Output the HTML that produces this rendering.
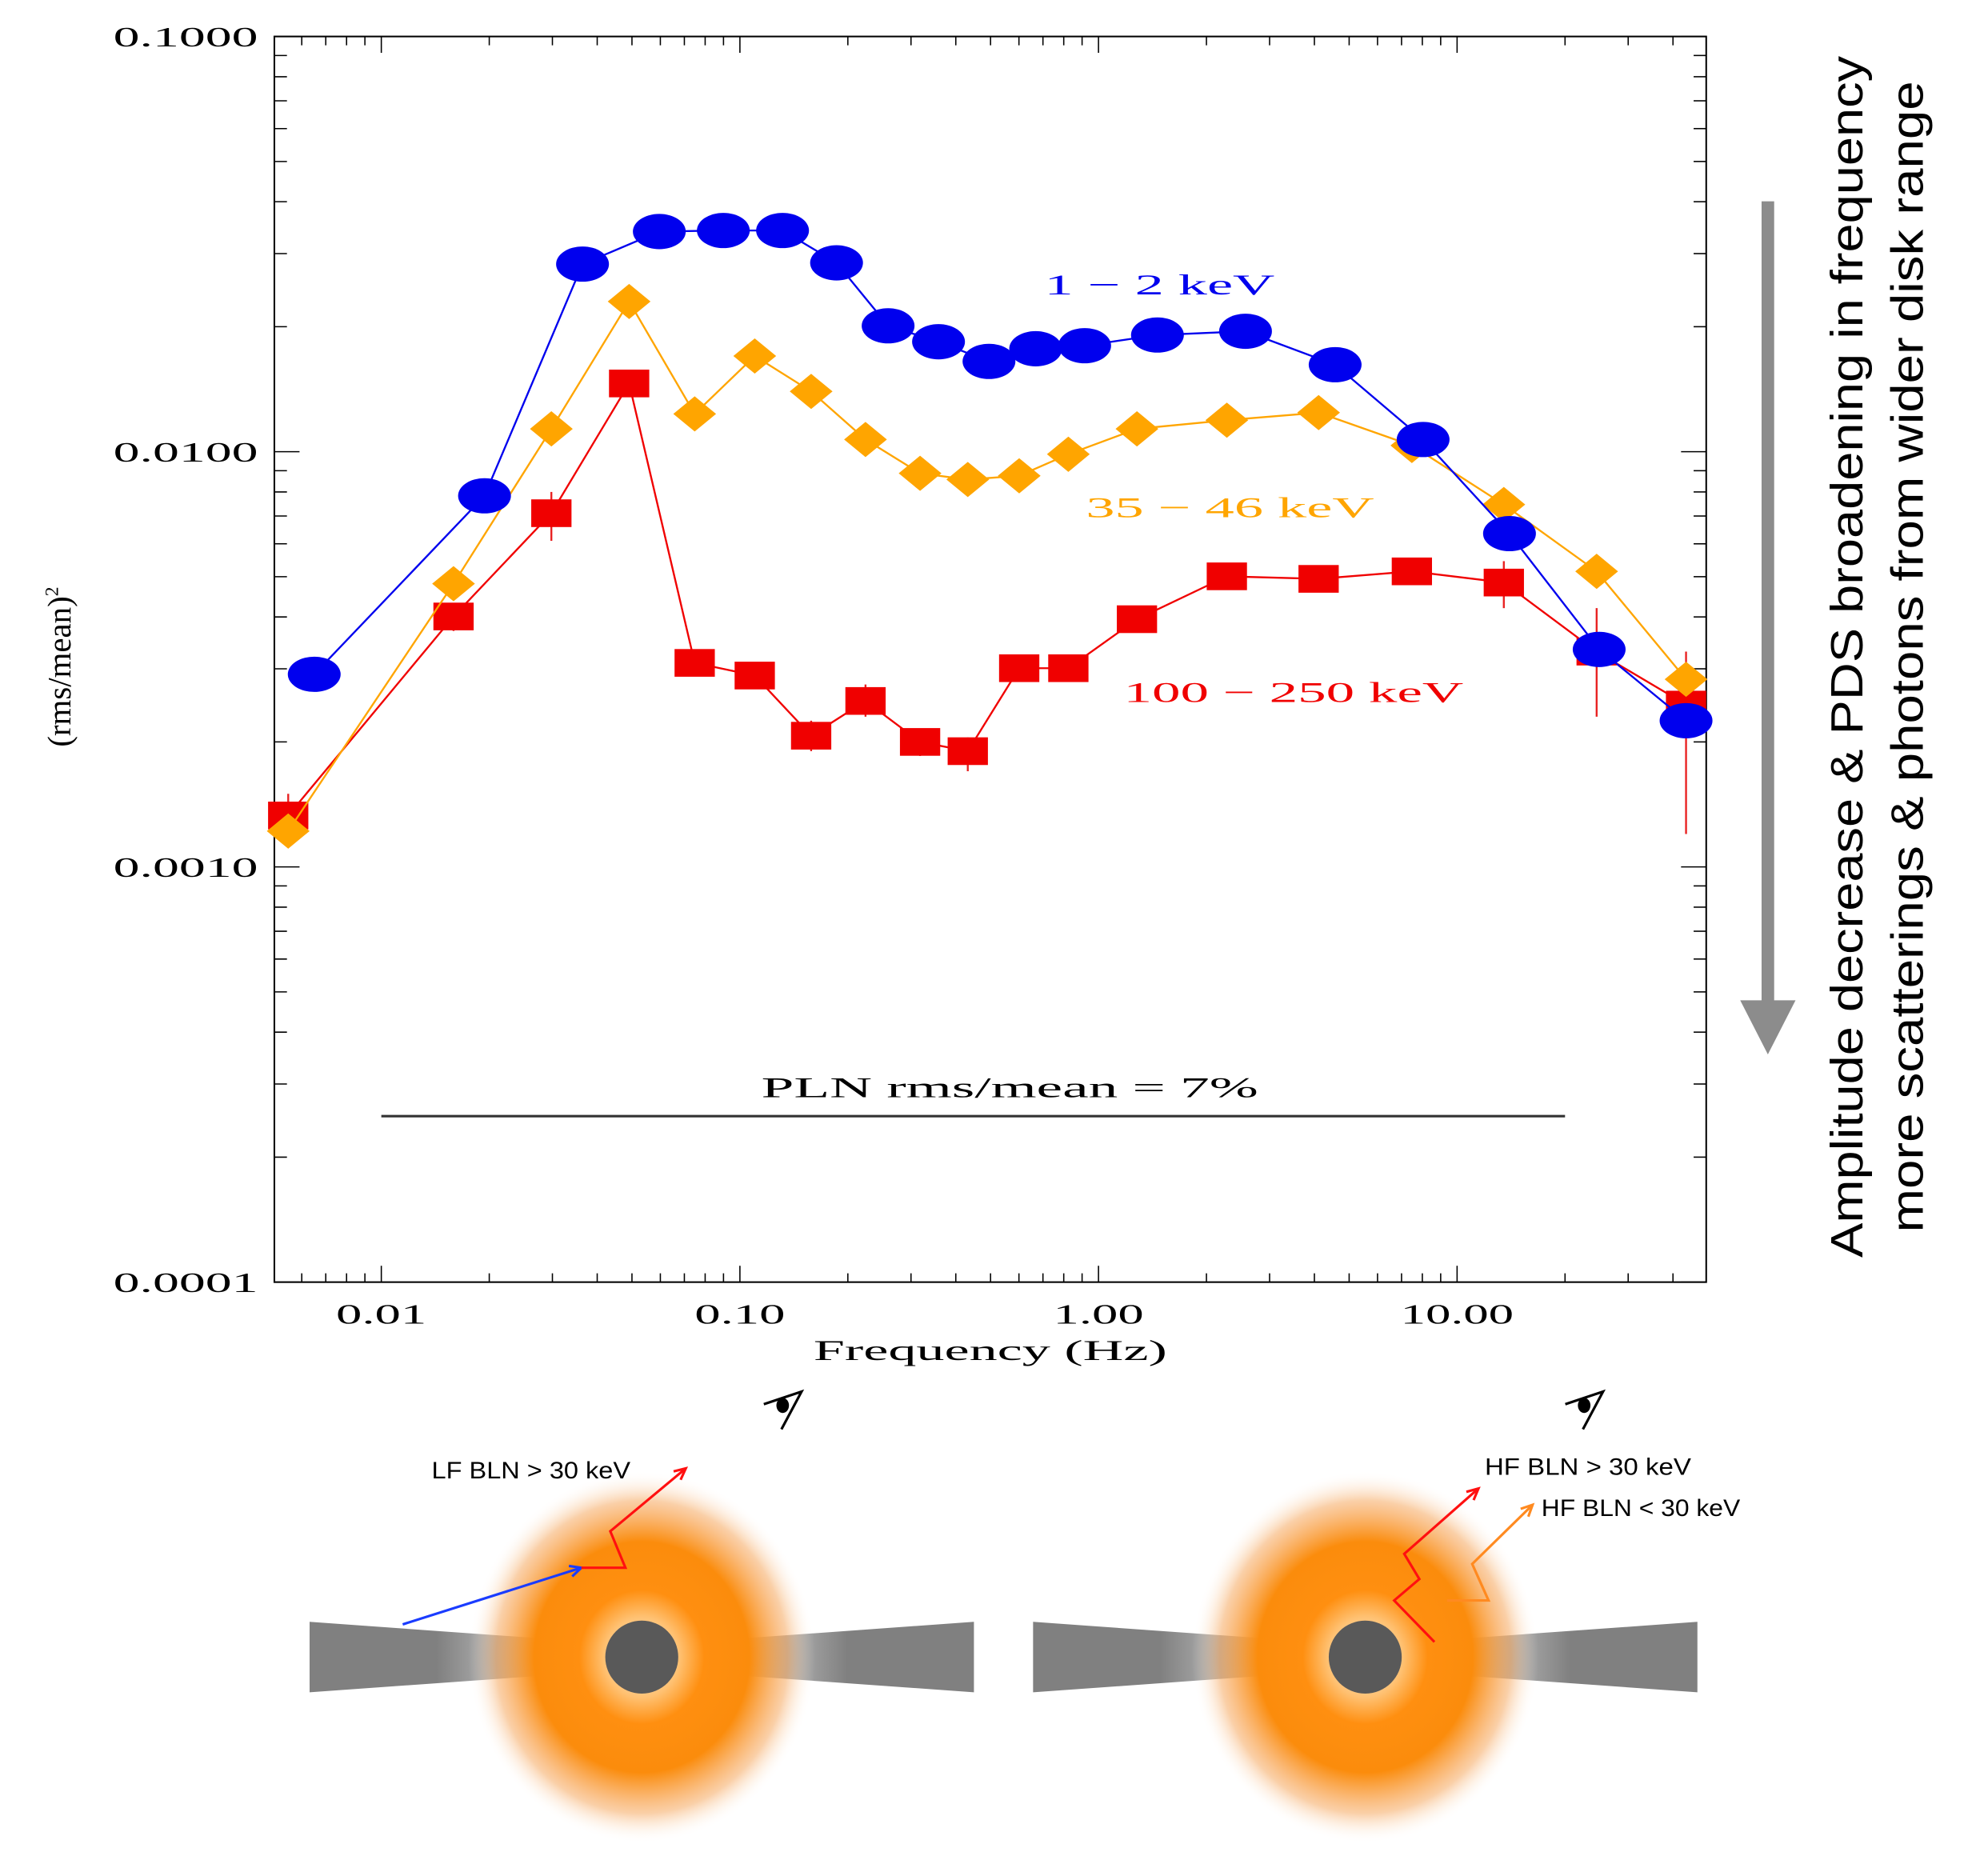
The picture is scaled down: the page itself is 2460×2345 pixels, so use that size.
<!DOCTYPE html>
<html><head><meta charset="utf-8"><style>
html,body{margin:0;padding:0;background:#fff}
svg{display:block}
.ser{font-family:"Liberation Serif",serif}
.sans{font-family:"Liberation Sans",sans-serif}
</style></head><body>
<svg id="chart" width="2460" height="2345" viewBox="0 0 1564 1491" xmlns="http://www.w3.org/2000/svg">
<defs>
<radialGradient id="glow" cx="0.5" cy="0.5" r="0.5">
<stop offset="0" stop-color="#fff3e0"/>
<stop offset="0.22" stop-color="#ffc070"/>
<stop offset="0.36" stop-color="#ff8f10"/>
<stop offset="0.62" stop-color="#fb8c0c"/>
<stop offset="0.84" stop-color="#f5a050" stop-opacity="0.5"/>
<stop offset="1" stop-color="#ffffff" stop-opacity="0"/>
</radialGradient>
<linearGradient id="diskL" x1="0" x2="1"><stop offset="0.45" stop-color="#808080"/><stop offset="1" stop-color="#808080" stop-opacity="0"/></linearGradient>
<linearGradient id="diskR" x1="1" x2="0"><stop offset="0.45" stop-color="#808080"/><stop offset="1" stop-color="#808080" stop-opacity="0"/></linearGradient>
</defs>
<g id="plot"></g>
<g id="diagram"></g>
</svg>
<script>
const freqBlue=[0.0065,0.0194,0.0364,0.0596,0.0899,0.1315,0.186,0.259,0.358,0.495,0.668,0.915,1.46,2.57,4.57,8.04,14.0,24.9,43.5];
const valBlue=[0.00291,0.00783,0.0283,0.0339,0.0341,0.0341,0.0285,0.0201,0.0184,0.0165,0.0177,0.0180,0.0191,0.0195,0.0162,0.0107,0.00635,0.00334,0.00225];
const freqOrange=[0.0055,0.0159,0.0298,0.0491,0.0748,0.110,0.158,0.224,0.318,0.432,0.601,0.824,1.28,2.28,4.11,7.48,13.5,24.5,43.5];
const valOrange=[0.00122,0.00481,0.01135,0.0230,0.01233,0.0170,0.01397,0.0107,0.00887,0.00857,0.00875,0.00986,0.01135,0.01191,0.01242,0.01035,0.00746,0.00515,0.00283];
const freqRed=[0.0055,0.0159,0.0298,0.0491,0.0748,0.110,0.158,0.224,0.318,0.432,0.601,0.824,1.28,2.28,4.11,7.48,13.5,24.5,43.5];
const valRed=[0.00133,0.00401,0.00711,0.0146,0.00310,0.00289,0.00207,0.00251,0.00200,0.00190,0.00301,0.00301,0.00395,0.00501,0.00494,0.00515,0.00484,0.00330,0.00246];
const errRedLo=[0.00120,0.00370,0.00610,0.0136,0.00290,0.00270,0.00190,0.00230,0.00185,0.00170,0.00285,0.00285,0.00375,0.00480,0.00470,0.00490,0.00420,0.00230,0.00120];
const errRedHi=[0.00150,0.00430,0.00800,0.0156,0.00330,0.00305,0.00225,0.00275,0.00215,0.00205,0.00320,0.00320,0.00415,0.00520,0.00515,0.00545,0.00545,0.00420,0.00330];
const xTickVals=[0.01,0.1,1,10];
const xTickLabels=["0.01","0.10","1.00","10.00"];
const yTickVals=[0.1,0.01,0.001,0.0001];
const yTickLabels=["0.1000","0.0100","0.0010","0.0001"];
const plnLevel=0.000251;

const NS="http://www.w3.org/2000/svg";
const L=218,R=1356,T=29,B=1019;
const X=f=>303+(Math.log10(f)+2)*285;
const Y=v=>29+(-1-Math.log10(v))*330;
const plot=document.getElementById('plot');
function mk(tag,attrs,parent){const e=document.createElementNS(NS,tag);for(const k in attrs)e.setAttribute(k,attrs[k]);(parent||plot).appendChild(e);return e;}

const frame=mk('rect',{x:L,y:T,width:R-L,height:B-T,fill:'none',stroke:'#000','stroke-width':1.3});



for(let d=-3;d<=1;d++){for(let m=1;m<=9;m++){const f=m*Math.pow(10,d);const x=X(f);if(x<L-0.5||x>R+0.5)continue;const len=m===1?13:7;
const t1=mk('line',{x1:x,x2:x,y1:B,y2:B-len,stroke:'#000','stroke-width':1});


const t2=mk('line',{x1:x,x2:x,y1:T,y2:T+len,stroke:'#000','stroke-width':1});

}}
for(let d=-4;d<=-1;d++){for(let m=1;m<=9;m++){const v=m*Math.pow(10,d);const y=Y(v);if(y<T-0.5||y>B+0.5)continue;const len=m===1?20:10;
const t1=mk('line',{x1:L,x2:L+len,y1:y,y2:y,stroke:'#000','stroke-width':1});


const t2=mk('line',{x1:R,x2:R-len,y1:y,y2:y,stroke:'#000','stroke-width':1});

}}
xTickVals.forEach((v,i)=>{const t=mk('text',{x:X(v),y:1052,'text-anchor':'middle',class:'ser','font-size':22,textLength:xTickLabels[i].length*18,lengthAdjust:'spacingAndGlyphs'});t.textContent=xTickLabels[i];

});
yTickVals.forEach((v,i)=>{const t=mk('text',{x:205,y:Y(v)+8,'text-anchor':'end',class:'ser','font-size':22,textLength:115,lengthAdjust:'spacingAndGlyphs'});t.textContent=yTickLabels[i];

});
const xt=mk('text',{x:787,y:1081,'text-anchor':'middle',class:'ser','font-size':23,textLength:281,lengthAdjust:'spacingAndGlyphs'});xt.textContent='Frequency (Hz)';


const yt=mk('text',{x:0,y:0,'text-anchor':'middle',class:'ser','font-size':26,transform:'translate(56,530) rotate(-90)'});yt.innerHTML='(rms/mean)<tspan font-size="15" dy="-10">2</tspan>';



const pl=mk('line',{x1:X(0.01),x2:X(20),y1:Y(plnLevel),y2:Y(plnLevel),stroke:'#333','stroke-width':2});


const pt=mk('text',{x:605,y:872,class:'ser','font-size':23,textLength:395,lengthAdjust:'spacingAndGlyphs'});pt.textContent='PLN rms/mean = 7%';



function series(fs,vs,color,shape,name){
  const g=mk('g',{});
  
  
  const pts=fs.map((f,i)=>X(f)+','+Y(vs[i])).join(' ');
  const ln=mk('polyline',{points:pts,fill:'none',stroke:color,'stroke-width':1.5},g);
  
  
  fs.forEach((f,i)=>{const x=X(f),y=Y(vs[i]);let m;
    if(shape==='ellipse')m=mk('ellipse',{cx:x,cy:y,rx:21,ry:14,fill:color},g);
    else if(shape==='diamond')m=mk('polygon',{points:`${x-17},${y} ${x},${y-14} ${x+17},${y} ${x},${y+14}`,fill:color},g);
    else m=mk('rect',{x:x-16,y:y-11,width:32,height:22,fill:color},g);
    
    
  });
  return g;
}
const eg=mk('g',{});


freqRed.forEach((f,i)=>{const e=mk('line',{x1:X(f),x2:X(f),y1:Y(errRedLo[i]),y2:Y(errRedHi[i]),stroke:'#e82020','stroke-width':1.5},eg);

});
series(freqRed,valRed,'#f00000','square','red-100-250kev');
series(freqOrange,valOrange,'#ffa500','diamond','orange-35-46kev');
series(freqBlue,valBlue,'#0000ee','ellipse','blue-1-2kev');

const lb=[['1 − 2 keV',830,234,'#0000ee','label-1-2kev',183],['35 − 46 keV',863,411,'#ffa500','label-35-46kev',229],['100 − 250 keV',893,558,'#f00000','label-100-250kev',270]];
lb.forEach(a=>{const t=mk('text',{x:a[1],y:a[2],class:'ser','font-size':23,fill:a[3],textLength:a[5],lengthAdjust:'spacingAndGlyphs'});t.textContent=a[0];

});

const ar=mk('g',{});


mk('rect',{x:1400,y:160,width:10,height:640,fill:'#8c8c8c'},ar);
mk('polygon',{points:'1383,795 1427,795 1405,838',fill:'#8c8c8c'},ar);
const a1=mk('text',{x:0,y:0,'text-anchor':'middle',class:'sans','font-size':36,transform:'translate(1480,522) rotate(-90)',textLength:955,lengthAdjust:'spacingAndGlyphs'});a1.textContent='Amplitude decrease & PDS broadening in frequency';


const a2=mk('text',{x:0,y:0,'text-anchor':'middle',class:'sans','font-size':36,transform:'translate(1528,522) rotate(-90)',textLength:915,lengthAdjust:'spacingAndGlyphs'});a2.textContent='more scatterings & photons from wider disk range';



const dg=document.getElementById('diagram');
function panel(cx,ex,name){
  const g=mk('g',{},dg);
  
  
  mk('polygon',{points:`${cx-264},1289 ${cx-40},1305 ${cx-40},1329 ${cx-264},1345`,fill:'url(#diskL)'},g);
  mk('polygon',{points:`${cx+264},1289 ${cx+40},1305 ${cx+40},1329 ${cx+264},1345`,fill:'url(#diskR)'},g);
  mk('ellipse',{cx:cx,cy:1317,rx:138,ry:148,fill:'url(#glow)'},g);
  mk('circle',{cx:cx,cy:1317,r:29,fill:'#595959'},g);
  const eye=mk('g',{},g);
  
  
  mk('path',{d:`M${ex-18},${1116} L${ex+12},1106 L${ex-4},1136`,fill:'none',stroke:'#000','stroke-width':2},eye);
  mk('ellipse',{cx:ex-3,cy:1117,rx:5,ry:6,fill:'#000'},eye);
  return g;
}
const p1=panel(510,625,'lf-diagram');
const p2=panel(1085,1262,'hf-diagram');
function arrow(pts,color,g){
  const p=mk('polyline',{points:pts.map(a=>a.join(',')).join(' '),fill:'none',stroke:color,'stroke-width':2},g);
  const [x1,y1]=pts[pts.length-2],[x2,y2]=pts[pts.length-1];
  const ang=Math.atan2(y2-y1,x2-x1),h=10;
  mk('polyline',{points:`${x2-h*Math.cos(ang-0.45)},${y2-h*Math.sin(ang-0.45)} ${x2},${y2} ${x2-h*Math.cos(ang+0.45)},${y2-h*Math.sin(ang+0.45)}`,fill:'none',stroke:color,'stroke-width':2},g);
  return p;
}
const b1=arrow([[320,1291],[462,1246]],'#1a3cff',p1);


const r1=arrow([[462,1246],[497,1246],[485,1217],[545,1167]],'#ff1010',p1);


const r2=arrow([[1140,1305],[1108,1272],[1128,1255],[1116,1235],[1175,1183]],'#ff1010',p2);


const o2=arrow([[1150,1272],[1183,1272],[1170,1243],[1218,1196]],'#ff8a20',p2);


const tx=[['LF BLN  > 30 keV',343,1175,p1,'lf-label',158],['HF BLN  > 30 keV',1180,1172,p2,'hf-hard-label',164],['HF BLN < 30 keV',1225,1205,p2,'hf-soft-label',158]];
tx.forEach(a=>{const t=mk('text',{x:a[1],y:a[2],class:'sans','font-size':19,'xml:space':'preserve',textLength:a[5],lengthAdjust:'spacingAndGlyphs'},a[3]);t.textContent=a[0];

});
</script>
</body></html>
